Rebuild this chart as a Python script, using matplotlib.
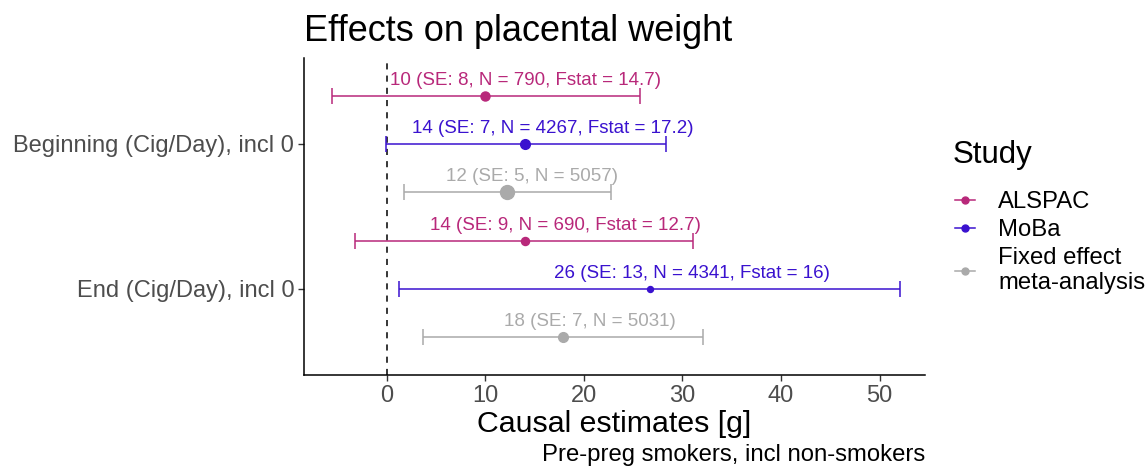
import matplotlib.pyplot as plt
from matplotlib.lines import Line2D

plt.rcParams['font.family'] = ['Liberation Sans', 'DejaVu Sans']

# data
exposures = ["Beginning (Cig/Day), incl 0", "End (Cig/Day), incl 0"]
studies = ["ALSPAC", "MoBa", "Fixed effect\nmeta-analysis"]
colors = ["#B8287A", "#3A12CF", "#AAAAAA"]

# rows: exposure index, study index
row_exp = [0, 0, 0, 1, 1, 1]
row_study = [0, 1, 2, 0, 1, 2]
estimate = [10.0, 14.0, 12.2, 14.0, 26.7, 17.9]
ci_low = [-5.6, -0.1, 1.75, -3.2, 1.2, 3.7]
ci_high = [25.7, 28.3, 22.7, 31.1, 52.1, 32.1]
labels = ["10 (SE: 8, N = 790, Fstat = 14.7)",
          "14 (SE: 7, N = 4267, Fstat = 17.2)",
          "12 (SE: 5, N = 5057)",
          "14 (SE: 9, N = 690, Fstat = 12.7)",
          "26 (SE: 13, N = 4341, Fstat = 16)",
          "18 (SE: 7, N = 5031)"]
point_size = [6.5, 7, 10, 5.8, 4.3, 7]
label_shift = [29, 20, 18, 29, 30, 19]  # points, text offset to the right

fig = plt.figure(figsize=(11.48, 4.67), dpi=100)
ax = fig.add_axes([0.2648, 0.197, 0.5409, 0.679])

offsets = [-0.33, 0.0, 0.33]
for i in range(len(estimate)):
    y = row_exp[i] + 1 + offsets[row_study[i]]
    c = colors[row_study[i]]
    ax.errorbar(estimate[i], y,
                xerr=[[estimate[i] - ci_low[i]], [ci_high[i] - estimate[i]]],
                fmt='o', color=c, ms=point_size[i], elinewidth=1.1,
                capsize=6, capthick=1.1, zorder=3)
    ax.annotate(labels[i], (estimate[i], y), xytext=(label_shift[i], 8),
                textcoords='offset points', ha='center', va='baseline',
                fontsize=13.5, color=c)

ax.axvline(0, color='black', ls=(0, (4, 4)), lw=1.1)

ax.set_xlim(-8.4, 54.6)
ax.set_ylim(2.593, 0.407)
ax.set_yticks([1, 2])
ax.set_yticklabels(exposures)
ax.set_xticks([0, 10, 20, 30, 40, 50])
ax.tick_params(axis='both', labelsize=17, labelcolor='#4D4D4D', length=4,
               color='#333333', width=1, pad=3)
for s in ['top', 'right']:
    ax.spines[s].set_visible(False)
for s in ['left', 'bottom']:
    ax.spines[s].set_linewidth(1.1)

ax.set_xlabel("Causal estimates [g]", fontsize=21.8, labelpad=2)
ax.set_title("Effects on placental weight", fontsize=26, loc='left', pad=12)
fig.text(0.8057, 0.012, "Pre-preg smokers, incl non-smokers", ha='right',
         fontsize=17.2)

# legend
fig.text(0.830, 0.668, "Study", fontsize=22.5, va='center', ha='left')
handles = [Line2D([], [], color=c, marker='o', ms=5, lw=1.1) for c in colors]
leg = fig.legend(handles, studies, loc='upper left',
                 bbox_to_anchor=(0.8236, 0.6115), borderaxespad=0,
                 frameon=False, fontsize=17.2, handlelength=0.85,
                 labelspacing=0.25, handletextpad=0.95)

fig.savefig("out.png", dpi=100)
